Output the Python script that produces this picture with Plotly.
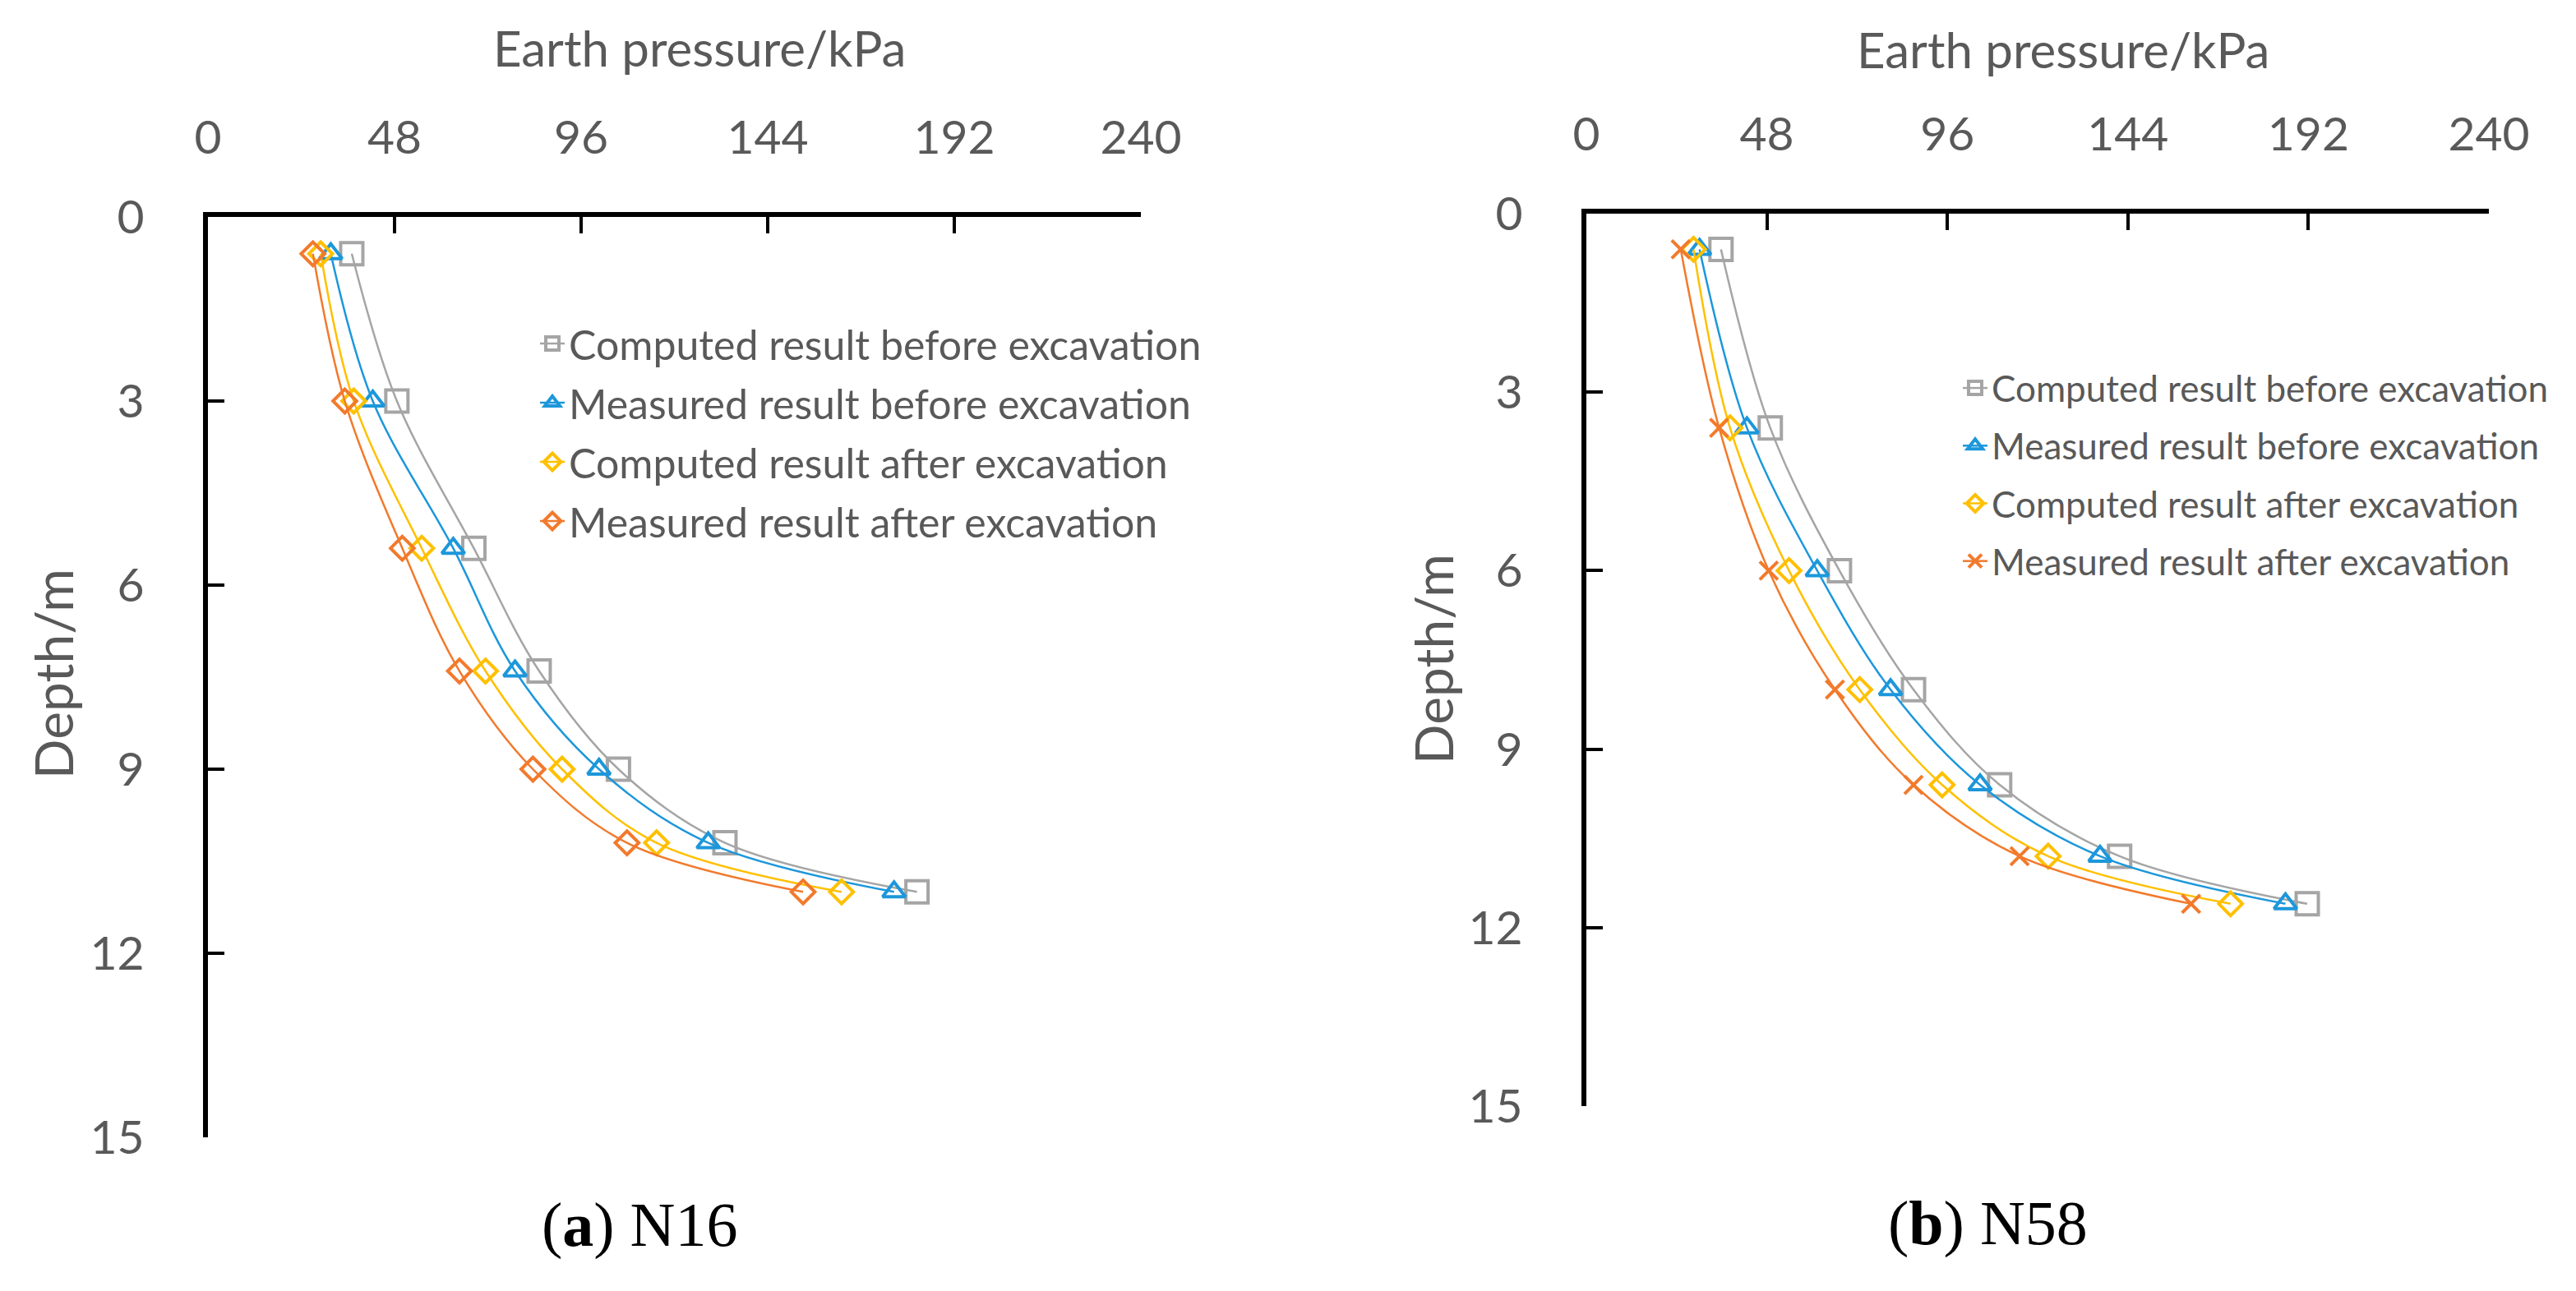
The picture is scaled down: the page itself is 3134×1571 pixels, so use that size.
import plotly.graph_objects as go

W, H = 3134, 1571

series_names = [
    "Computed result before excavation",
    "Measured result before excavation",
    "Computed result after excavation",
    "Measured result after excavation",
]

# (a) N16 - depth in m, earth pressure in kPa
depth_n16 = [0.6, 3.0, 5.4, 7.4, 9.0, 10.2, 11.0]
comp_before_n16 = [37.0, 48.6, 68.4, 85.2, 105.6, 133.0, 182.4]
meas_before_n16 = [31.6, 42.4, 63.1, 79.0, 100.6, 128.7, 176.5]
comp_after_n16 = [29.0, 37.5, 55.0, 71.4, 91.1, 115.4, 163.0]
meas_after_n16 = [27.0, 35.2, 50.0, 64.7, 83.6, 107.8, 153.1]

# (b) N58
depth_n58 = [0.6, 3.6, 6.0, 8.0, 9.6, 10.8, 11.6]
comp_before_n58 = [35.8, 48.9, 67.3, 87.0, 109.9, 141.8, 191.7]
meas_before_n58 = [30.1, 42.7, 61.4, 80.9, 104.7, 136.6, 185.9]
comp_after_n58 = [28.5, 38.2, 53.9, 72.7, 94.6, 122.8, 171.3]
meas_after_n58 = [25.1, 35.3, 48.5, 66.1, 87.0, 115.2, 160.8]

x_ticks = [0, 48, 96, 144, 192, 240]
y_ticks = [0, 3, 6, 9, 12, 15]

colors = ["#A5A5A5", "#1C97DB", "#FFC000", "#F27A2C"]
symbols_n16 = ["square-open", "triangle-up-open", "diamond-open", "diamond-open"]
symbols_n58 = ["square-open", "triangle-up-open", "diamond-open", "x-thin-open"]
sizes = {"square-open": 27, "triangle-up-open": 24, "diamond-open": 22, "x-thin-open": 22}

TICK_GRAY = "#595959"
FONT = "Lato"


def px_x(p):
    return p / W


def px_y(p):
    return 1 - p / H


fig = go.Figure()

panels = [
    ("x", "y", "legend", depth_n16,
     [comp_before_n16, meas_before_n16, comp_after_n16, meas_after_n16], symbols_n16, "a"),
    ("x2", "y2", "legend2", depth_n58,
     [comp_before_n58, meas_before_n58, comp_after_n58, meas_after_n58], symbols_n58, "b"),
]

for xa, ya, lg, depth, vals, syms, tag in panels:
    for i, v in enumerate(vals):
        fig.add_trace(go.Scatter(
            x=v, y=depth, xaxis=xa, yaxis=ya, legend=lg,
            name=series_names[i], legendgroup=f"{tag}{i}",
            mode="lines+markers",
            line=dict(color=colors[i], width=2.5, shape="spline", smoothing=1),
            marker=dict(symbol=syms[i], size=sizes[syms[i]], color=colors[i],
                        line=dict(color=colors[i], width=4)),
        ))

xaxis_style = dict(
    range=[0, 240], tickvals=x_ticks, side="top", showline=True, linecolor="black",
    linewidth=6, ticks="inside", ticklen=20, tickwidth=4, tickcolor="black",
    showgrid=False, zeroline=False, tickfont=dict(family=FONT, size=57, color=TICK_GRAY),
    ticklabelstandoff=48, fixedrange=True, automargin=False,
)
yaxis_style = dict(
    range=[15, 0], tickvals=y_ticks, showline=True, linecolor="black",
    linewidth=6, ticks="inside", ticklen=20, tickwidth=4, tickcolor="black",
    showgrid=False, zeroline=False, tickfont=dict(family=FONT, size=57, color=TICK_GRAY),
    ticklabelstandoff=60, fixedrange=True, automargin=False,
)

fig.update_layout(
    width=W, height=H, margin=dict(l=0, r=0, t=0, b=0, autoexpand=False),
    paper_bgcolor="white", plot_bgcolor="white",
    xaxis=dict(xaxis_style, domain=[px_x(245), px_x(1380)], anchor="y"),
    yaxis=dict(yaxis_style, domain=[px_y(1376), px_y(256)], anchor="x"),
    xaxis2=dict(xaxis_style, domain=[px_x(1922), px_x(3020)], anchor="y2"),
    yaxis2=dict(yaxis_style, domain=[px_y(1338), px_y(252)], anchor="x2"),
    legend=dict(x=px_x(644), y=px_y(371), xanchor="left", yanchor="top",
                font=dict(family=FONT, size=50, color=TICK_GRAY),
                tracegroupgap=4, bgcolor="rgba(0,0,0,0)"),
    legend2=dict(x=px_x(2375), y=px_y(429), xanchor="left", yanchor="top",
                 font=dict(family=FONT, size=44, color=TICK_GRAY),
                 tracegroupgap=10, bgcolor="rgba(0,0,0,0)"),
)

annots = [
    dict(text="Earth pressure/kPa", x=px_x(843), y=px_y(50), size=60, angle=0, fam=FONT, col=TICK_GRAY),
    dict(text="Earth pressure/kPa", x=px_x(2502), y=px_y(52), size=60, angle=0, fam=FONT, col=TICK_GRAY),
    dict(text="Depth/m", x=px_x(56), y=px_y(812), size=64, angle=-90, fam=FONT, col=TICK_GRAY),
    dict(text="Depth/m", x=px_x(1735), y=px_y(794), size=64, angle=-90, fam=FONT, col=TICK_GRAY),
    dict(text="(<b>a</b>) N16", x=px_x(770), y=px_y(1482), size=76, angle=0, fam="Liberation Serif", col="black"),
    dict(text="(<b>b</b>) N58", x=px_x(2410), y=px_y(1480), size=76, angle=0, fam="Liberation Serif", col="black"),
]
for a in annots:
    fig.add_annotation(text=a["text"], x=a["x"], y=a["y"], xref="paper", yref="paper",
                       xanchor="center", yanchor="middle", showarrow=False, textangle=a["angle"],
                       font=dict(family=a["fam"], size=a["size"], color=a["col"]))

fig.write_html("out.html")
